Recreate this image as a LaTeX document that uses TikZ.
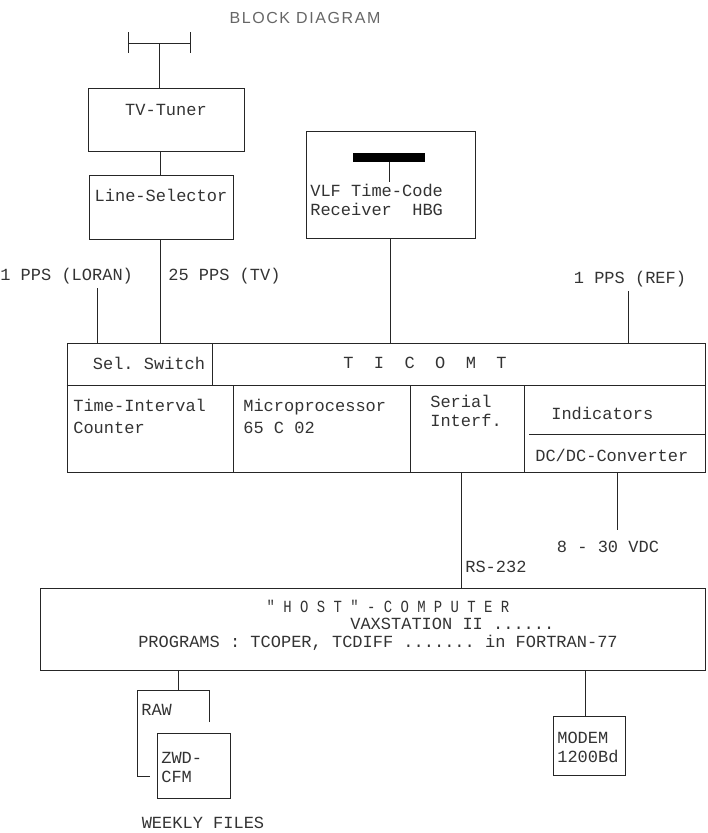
\documentclass[tikz,border=0pt]{standalone}
\usepackage{fontspec}
\setmonofont{Liberation Mono}
\newfontfamily\titlefont[LetterSpace=10]{Liberation Sans}
\usetikzlibrary{positioning,calc}

\begin{document}
\begin{tikzpicture}[x=1pt, y=-1pt, line width=0.65pt, draw=black!85]
	\useasboundingbox (0,0) rectangle (708,833);
	\begin{scope}
		\tikzstyle{every node}=[inner sep=0pt, text=black!80, font=\ttfamily\fontsize{17}{19}\selectfont]
		\tikzstyle{box}=[draw, rectangle]
		\tikzstyle{txt}=[anchor=west, align=left]

		% title and antenna
		\node (title) at (305, 18) {\titlefont\fontsize{16}{18}\selectfont\color{black!60}BLOCK DIAGRAM};
		\coordinate (antl) at (128, 43);
		\coordinate (antr) at (190, 43);
		\coordinate (antc) at (159, 43);

		% boxes
		\node[box, minimum width=156pt, minimum height=63pt] (tuner) at (166, 119.5) {};
		\node[box, minimum width=144pt, minimum height=64pt] (linesel) at (161, 207) {};
		\node[box, minimum width=169pt, minimum height=107pt] (vlf) at (390.5, 184.5) {};
		\node[fill=black, minimum width=72pt, minimum height=9pt] (bar) at (389, 157.5) {};
		\node[box, minimum width=638pt, minimum height=129pt] (ticomt) at (386, 407.5) {};
		\node[box, minimum width=665pt, minimum height=82pt] (host) at (372.5, 629) {};
		\node[box, minimum width=73pt, minimum height=65pt] (zwd) at (193.5, 765.5) {};
		\node[box, minimum width=72pt, minimum height=59pt] (modem) at (589, 745.5) {};

		% texts
		\node (tunertxt) at (166, 110) {TV-Tuner};
		\node (lineseltxt) at (161, 195) {Line-Selector};
		\node[txt, anchor=north west] (vlftxt) at (310, 184) {VLF Time-Code\\Receiver~~HBG};
		\node[txt] (loran) at (0, 276) {1 PPS (LORAN)};
		\node[txt] (tvpps) at (168, 276) {25 PPS (TV)};
		\node (ref) at (630, 279) {1 PPS (REF)};
		\node (selsw) at (149, 363) {Sel. Switch};
		\node (ticomttxt) at (425, 363) {T~~I~~C~~O~~M~~T};
		\node[txt] (tic) at (73, 416) {Time-Interval\\[3pt]Counter};
		\node[txt] (mpu) at (243, 416) {Microprocessor\\[3pt]65 C 02};
		\node[txt] (serial) at (430, 411) {Serial\\Interf.};
		\node[txt] (ind) at (551, 413) {Indicators};
		\node[txt] (dcdc) at (535, 455) {DC/DC-Converter};
		\node[txt] (rs) at (465, 567) {RS-232};
		\node (vdc) at (608, 547) {8 - 30 VDC};
		\node (hosttxt) at (388, 606) {\scalebox{0.82}[1]{" H O S T " - C O M P U T E R}};
		\node[txt] (vaxtxt) at (350, 624) {VAXSTATION II ......};
		\node (progtxt) at (378, 643) {PROGRAMS : TCOPER, TCDIFF ....... in FORTRAN-77};
		\node[txt] (rawtxt) at (141, 710) {RAW};
		\node[txt] (zwdtxt) at (161, 767) {ZWD-\\CFM};
		\node[txt] (modemtxt) at (557, 747) {MODEM\\1200Bd};
		\node (weekly) at (203, 823) {WEEKLY FILES};

		% taps
		\coordinate (tvtap) at (160, 300);
		\coordinate (lorantap) at (97, 288);
		\coordinate (reftap) at (628, 291);
		\coordinate (vlftap) at (390, 300);
		\coordinate (vlfant) at (389, 182);
		\coordinate (rstap) at (461, 520);
		\coordinate (vdctap) at (617, 530);
		\coordinate (rawtop) at (178, 690);

		% antenna
		\draw (antl) -- (antr);
		\draw (antl) ++(0,-11) -- ++(0,21);
		\draw (antr) ++(0,-11) -- ++(0,21);
		\draw (antc) -- (antc |- tuner.north);

		% raw file sheet
		\draw (209, 722) -- (209, 690) -- (137, 690) -- (137, 776) -- (150, 776);

		% TICOMT dividers
		\draw (212, 343) -- (212, 385);
		\draw (ticomt.west |- 0, 385) -- (ticomt.east |- 0, 385);
		\draw (233, 385) -- (233, 472);
		\draw (410, 385) -- (410, 472);
		\draw (524, 385) -- (524, 472);
		\draw (529, 434) -- (ticomt.east |- 0, 434);

		% connections
		\draw (tvtap |- tuner.south) -- (tvtap |- linesel.north);
		\draw (tvtap |- linesel.south) -- (tvtap |- ticomt.north);
		\draw (lorantap) -- (lorantap |- ticomt.north);
		\draw (vlftap |- vlf.south) -- (vlftap |- ticomt.north);
		\draw (reftap) -- (reftap |- ticomt.north);
		\draw (bar.south) -- (vlfant);
		\draw (rstap |- ticomt.south) -- (rstap |- host.north);
		\draw (vdctap |- ticomt.south) -- (vdctap);
		\draw (host.south -| rawtop) -- (rawtop);
		\draw (host.south -| 585, 0) -- (modem.north -| 585, 0);
	\end{scope}
\end{tikzpicture}
\end{document}
